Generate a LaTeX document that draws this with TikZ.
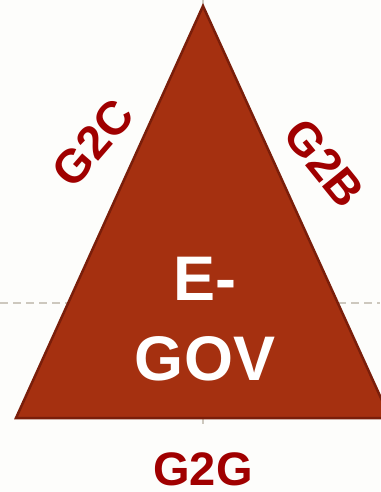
\documentclass[tikz,border=0pt]{standalone}
\usepackage{fontspec}
\setmainfont{Liberation Sans}
\definecolor{bg}{RGB}{253,253,251}
\definecolor{trifill}{RGB}{165,48,16}
\definecolor{triedge}{RGB}{122,30,10}
\definecolor{lab}{RGB}{160,0,0}
\definecolor{guide}{RGB}{205,200,190}
\begin{document}
\begin{tikzpicture}[x=1pt,y=-1pt,
  lab/.style={text=lab,font=\bfseries\fontsize{47}{47}\selectfont,inner sep=0pt},
  guideline/.style={draw=guide,line width=2pt}]
\fill[bg] (0,0) rectangle (380,492);
\useasboundingbox (0,0) rectangle (380,492);
\coordinate (dl) at (0,303);
\coordinate (dr) at (380,303);
\draw[guideline,dash pattern=on 8pt off 5pt] (dl) -- (dr);
\coordinate (top) at (203,0);
\coordinate (A) at (203,6);
\coordinate (B) at (16,418);
\coordinate (C) at (390,418);
\coordinate (tk1) at (203,418);
\coordinate (tk2) at (203,424);
\draw[guideline,line width=1.5pt] (top) -- (A);
\draw[guideline,line width=1.5pt] (tk1) -- (tk2);
\filldraw[fill=trifill,draw=triedge,line width=2.5pt,line join=miter] (A) -- (B) -- (C) -- cycle;
\node[align=center,text=white,font=\bfseries\fontsize{63}{80}\selectfont,inner sep=0pt] (egov) at (205,319) {E-\\GOV};
\node[lab] (g2g) at (203,469) {G2G};
\node[lab,rotate=49] (g2c) at (93,143) {G2C};
\node[lab,rotate=-51] (g2b) at (324,163) {G2B};
\end{tikzpicture}
\end{document}
